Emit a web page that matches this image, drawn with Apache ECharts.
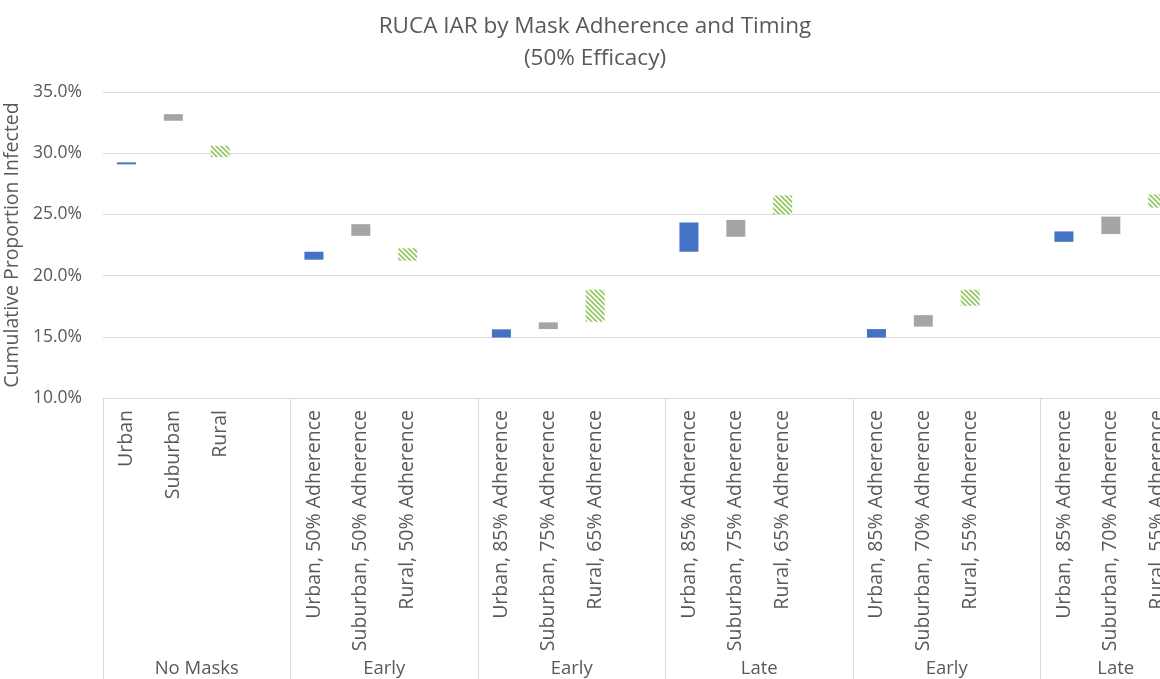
<!DOCTYPE html>
<html>
<head>
<meta charset="utf-8">
<script src="https://cdn.jsdelivr.net/npm/echarts@6/dist/echarts.min.js"></script>
<style>
  html, body { margin: 0; padding: 0; background: #fff; }
  #chart { width: 1160px; height: 679px; }
</style>
</head>
<body>
<div id="chart"></div>
<script>
// group names along the bottom
var groups = ["No Masks", "Early", "Early", "Late", "Early", "Late"];
// category labels, 3 per group
var catLabels = [
  ["Urban", "Suburban", "Rural"],
  ["Urban, 50% Adherence", "Suburban, 50% Adherence", "Rural, 50% Adherence"],
  ["Urban, 85% Adherence", "Suburban, 75% Adherence", "Rural, 65% Adherence"],
  ["Urban, 85% Adherence", "Suburban, 75% Adherence", "Rural, 65% Adherence"],
  ["Urban, 85% Adherence", "Suburban, 70% Adherence", "Rural, 55% Adherence"],
  ["Urban, 85% Adherence", "Suburban, 70% Adherence", "Rural, 55% Adherence"]
];
// low / high of each floating bar (percent), one per group
var urbanLow     = [29.09, 21.30, 14.94, 21.95, 14.94, 22.76];
var urbanHigh    = [29.25, 21.95, 15.61, 24.34, 15.63, 23.61];
var suburbanLow  = [32.65, 23.25, 15.63, 23.17, 15.83, 23.39];
var suburbanHigh = [33.19, 24.20, 16.18, 24.55, 16.77, 24.82];
var ruralLow     = [29.68, 21.22, 16.23, 25.01, 17.53, 25.55];
var ruralHigh    = [30.60, 22.23, 18.85, 26.55, 18.85, 26.63];

var yTicks = [10, 15, 20, 25, 30, 35];

// 4 slots per group, the last one is empty
var cats = [];
var base = [], urban = [], suburban = [], rural = [];
for (var g = 0; g < groups.length; g++) {
  cats.push(catLabels[g][0], catLabels[g][1], catLabels[g][2], "");
  base.push(urbanLow[g], suburbanLow[g], ruralLow[g], "-");
  urban.push(+(urbanHigh[g] - urbanLow[g]).toFixed(3), "-", "-", "-");
  suburban.push("-", +(suburbanHigh[g] - suburbanLow[g]).toFixed(3), "-", "-");
  rural.push("-", "-", +(ruralHigh[g] - ruralLow[g]).toFixed(3), "-");
}

// diagonal hatch for rural bars
var hatch = document.createElement("canvas");
hatch.width = 5;
hatch.height = 5;
var hc = hatch.getContext("2d");
hc.fillStyle = "#ffffff";
hc.fillRect(0, 0, 5, 5);
hc.strokeStyle = "#95c966";
hc.lineWidth = 1.8;
hc.beginPath();
hc.moveTo(-3, -3); hc.lineTo(8, 8);
hc.moveTo(-3, 2); hc.lineTo(3, 8);
hc.moveTo(2, -3); hc.lineTo(8, 3);
hc.stroke();

var txt = "#595959";
var font = "Open Sans";

var myChart = echarts.init(document.getElementById("chart"));
var option = {
  backgroundColor: "#fff",
  animation: false,
  title: {
    text: "RUCA IAR by Mask Adherence and Timing\n(50% Efficacy)",
    left: 590,
    textAlign: "center",
    top: 6,
    textStyle: { color: txt, fontSize: 22.5, fontWeight: "normal", fontFamily: font, lineHeight: 32 }
  },
  // plot runs past the right edge, as in the cropped original
  grid: { left: 103, top: 92, width: 1125, height: 306, outerBoundsMode: "none", containLabel: false },
  xAxis: [
    {
      type: "category",
      data: cats,
      axisLine: { lineStyle: { color: "#d9d9d9" } },
      // long ticks every 4 slots make the group separators
      axisTick: { show: true, interval: 3, length: 285, lineStyle: { color: "#d9d9d9" } },
      axisLabel: { interval: 0, rotate: 90, color: txt, fontSize: 19.5, fontFamily: font, margin: 12 }
    },
    {
      type: "category",
      data: groups,
      position: "bottom",
      offset: 0,
      axisLine: { show: false },
      axisTick: { show: false },
      axisLabel: { interval: 0, color: txt, fontSize: 18.5, fontFamily: font, margin: 261, alignMaxLabel: "right" }
    }
  ],
  yAxis: {
    type: "value",
    min: yTicks[0],
    max: yTicks[yTicks.length - 1],
    interval: 5,
    name: "Cumulative Proportion Infected",
    nameLocation: "middle",
    nameGap: 75,
    nameTextStyle: { color: txt, fontSize: 19.5, fontFamily: font },
    axisLine: { show: false },
    axisTick: { show: false },
    splitLine: { lineStyle: { color: "#d9d9d9" } },
    axisLabel: {
      color: txt, fontSize: 17.5, fontFamily: font, margin: 21,
      formatter: function (v) { return v.toFixed(1) + "%"; }
    }
  },
  series: [
    { name: "base", type: "bar", stack: "r", barWidth: 19, data: base,
      itemStyle: { color: "transparent" }, silent: true },
    { name: "Urban", type: "bar", stack: "r", barWidth: 19, data: urban,
      itemStyle: { color: "#4472c4" } },
    { name: "Suburban", type: "bar", stack: "r", barWidth: 19, data: suburban,
      itemStyle: { color: "#a5a5a5" } },
    { name: "Rural", type: "bar", stack: "r", barWidth: 19, data: rural,
      itemStyle: { color: { image: hatch, repeat: "repeat" } } }
  ]
};
myChart.setOption(option);
</script>
</body>
</html>
